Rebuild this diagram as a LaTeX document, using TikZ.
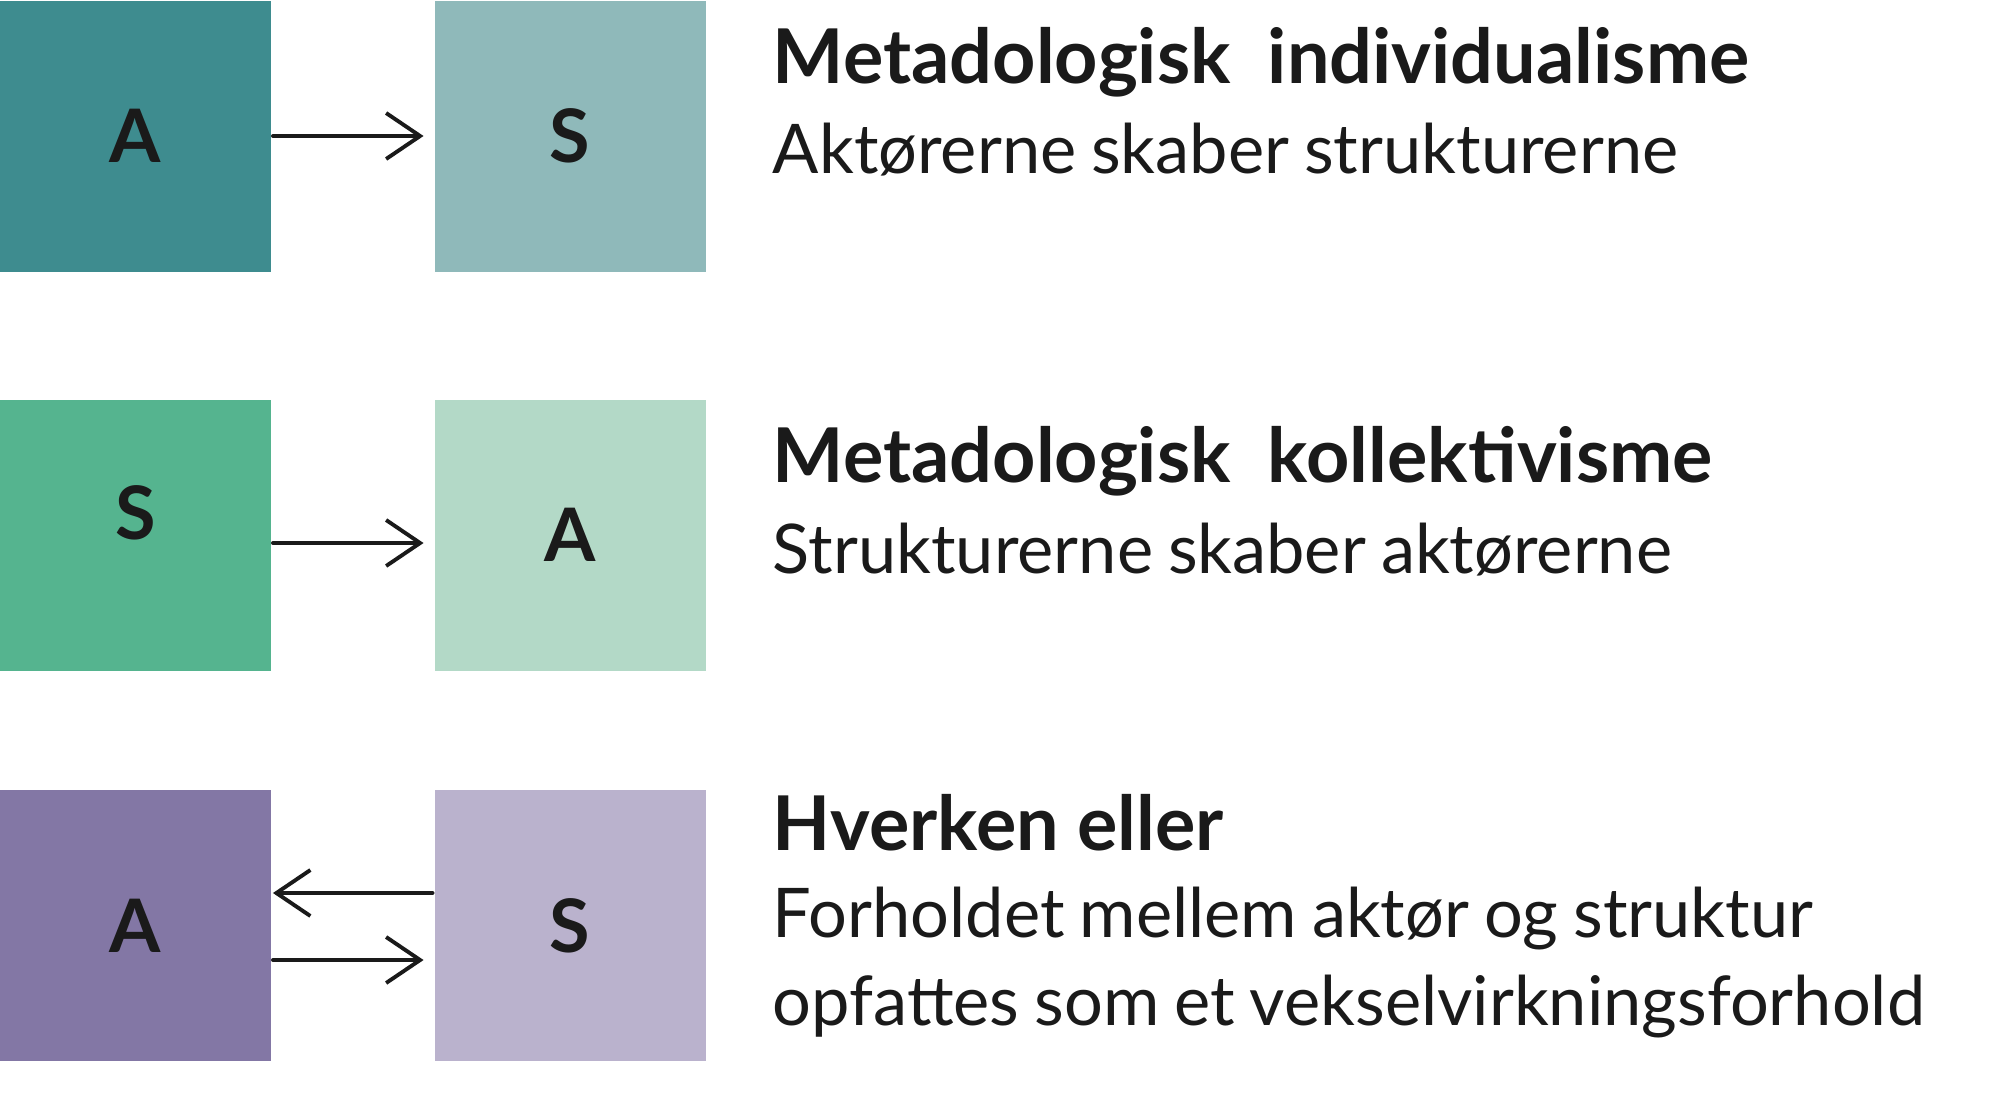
\documentclass[tikz,border=0pt]{standalone}
\usepackage{fontspec}
\setmainfont{Lato}
\newfontfamily\subfont{Lato}[WordSpace=0.85]
\usetikzlibrary{arrows.meta}
\definecolor{tealdark}{HTML}{3E8C8F}
\definecolor{teallight}{HTML}{8FB9BA}
\definecolor{greendark}{HTML}{55B48F}
\definecolor{greenlight}{HTML}{B3D9C7}
\definecolor{violetdark}{HTML}{8377A5}
\definecolor{violetlight}{HTML}{BAB2CD}
\definecolor{ink}{HTML}{1A1A1A}
\begin{document}
\begin{tikzpicture}[line cap=round, line join=round, >={Straight Barb[length=3.4mm,width=4.6mm]}, line width=1.1pt, color=ink]
	\tikzset{box/.style={minimum width=2.71cm, minimum height=2.71cm, inner sep=0pt, font=\fontsize{21}{25}\selectfont\bfseries},
		title/.style={anchor=base west, inner sep=0pt, font=\fontsize{21.5}{26}\selectfont\bfseries},
		sub/.style={anchor=base west, inner sep=0pt, font=\fontsize{19.5}{25}\selectfont\subfont}}
	\useasboundingbox (0,0) rectangle (20,-11.02);
	% row 1
	\node[box, fill=tealdark] (a1) at (1.355,-1.36) {A};
	\node[box, fill=teallight] (s1) at (5.70,-1.36) {S};
	\draw[->, shorten >=0.09cm] (a1) -- (s1);
	\node[title] (t1) at (7.71,-0.83) {Metadologisk\hspace{0.25em} individualisme};
	\node[sub] (d1) at (7.71,-1.73) {Aktørerne skaber strukturerne};
	% row 2
	\node[box, fill=greendark] (s2) at (1.355,-5.35) {\raisebox{4.4mm}{S}};
	\node[box, fill=greenlight] (a2) at (5.70,-5.35) {A};
	\draw[->, shorten >=0.09cm] ([yshift=-0.08cm]s2.east) -- ([yshift=-0.08cm]a2.west);
	\node[title] (t2) at (7.71,-4.82) {Metadologisk\hspace{0.25em} kollektivisme};
	\node[sub] (d2) at (7.71,-5.73) {Strukturerne skaber aktørerne};
	% row 3
	\node[box, fill=violetdark] (a3) at (1.355,-9.255) {A};
	\node[box, fill=violetlight] (s3) at (5.70,-9.255) {S};
	\draw[->] ([yshift=0.325cm]s3.west) -- ([yshift=0.325cm]a3.east);
	\draw[->, shorten >=0.09cm] ([yshift=-0.345cm]a3.east) -- ([yshift=-0.345cm]s3.west);
	\node[title] (t3) at (7.71,-8.50) {Hverken eller};
	\node[sub, align=left] (d3) at (7.71,-10.25) {Forholdet mellem aktør og struktur\\opfattes som et vekselvirkningsforhold};
\end{tikzpicture}
\end{document}
